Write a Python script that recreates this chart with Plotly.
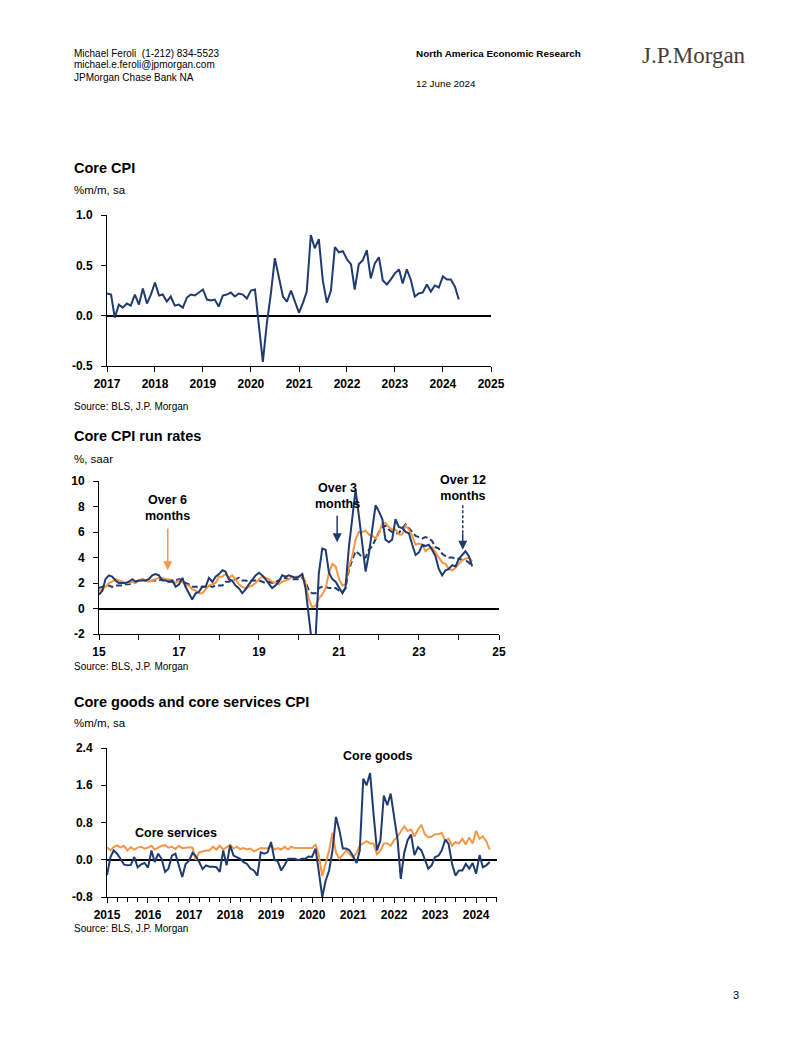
import plotly.graph_objects as go
import pandas as pd

# ---------------- DATA ----------------
# Chart 1: Core CPI, %m/m sa, Jan 2017 - May 2024
core_cpi = [
    0.22, 0.21, -0.02, 0.11, 0.08, 0.12, 0.10, 0.21, 0.11, 0.27, 0.12, 0.21,   # 2017
    0.33, 0.20, 0.21, 0.14, 0.19, 0.10, 0.11, 0.08, 0.18, 0.21, 0.20, 0.23,   # 2018
    0.26, 0.16, 0.15, 0.16, 0.09, 0.20, 0.21, 0.23, 0.19, 0.22, 0.21, 0.17,   # 2019
    0.25, 0.26, -0.10, -0.46, -0.08, 0.22, 0.57, 0.38, 0.19, 0.14, 0.25, 0.14,  # 2020
    0.03, 0.13, 0.24, 0.80, 0.67, 0.76, 0.35, 0.13, 0.25, 0.68, 0.63, 0.64,   # 2021
    0.56, 0.51, 0.26, 0.51, 0.55, 0.65, 0.37, 0.52, 0.58, 0.35, 0.31, 0.36,   # 2022
    0.42, 0.46, 0.32, 0.46, 0.36, 0.19, 0.22, 0.23, 0.31, 0.24, 0.30, 0.28,   # 2023
    0.39, 0.36, 0.36, 0.29, 0.16,                                             # 2024
]
core_cpi_start = "2017-01-01"
cpi_yticks = [-0.5, 0.0, 0.5, 1.0]
cpi_yticktext = ["-0.5", "0.0", "0.5", "1.0"]

# Chart 2: Core CPI run rates, %, saar, Jan 2015 - May 2024
run_3m = [
    1.1, 1.4, 2.3, 2.6, 2.5, 2.2, 2.0, 2.0, 2.0, 2.1, 2.3, 2.1,   # 2015
    2.2, 2.2, 2.2, 2.3, 2.6, 2.7, 2.6, 2.2, 2.2, 2.1, 2.2, 1.7,   # 2016
    1.9, 2.4, 1.7, 1.2, 0.7, 1.2, 1.3, 1.7, 1.7, 2.4, 2.1, 2.5,   # 2017
    2.7, 3.0, 2.9, 2.3, 2.2, 1.8, 1.6, 1.2, 1.5, 1.9, 2.3, 2.6,   # 2018
    2.8, 2.6, 2.3, 1.9, 1.6, 1.8, 2.1, 2.6, 2.5, 2.6, 2.5, 2.4,   # 2019
    2.5, 2.7, 1.6, -1.2, -2.9, -2.3, 2.8, 4.7, 4.6, 2.8, 2.3, 2.1,  # 2020
    1.7, 1.2, 1.6, 4.8, 7.0, 9.3, 7.3, 5.0, 2.9, 4.3, 6.4, 8.1,   # 2021
    7.6, 7.0, 5.4, 5.2, 5.4, 7.0, 6.4, 6.3, 6.0, 5.9, 5.0, 4.2,   # 2022
    4.4, 5.0, 4.9, 5.0, 4.6, 4.1, 3.1, 2.6, 3.0, 3.1, 3.4, 3.3,   # 2023
    3.9, 4.2, 4.5, 4.1, 3.3,                                      # 2024
]
run_6m = [
    1.4, 1.5, 1.7, 2.0, 2.1, 2.3, 2.2, 2.1, 2.0, 2.0, 2.1, 2.0,   # 2015
    2.2, 2.3, 2.2, 2.1, 2.2, 2.3, 2.4, 2.4, 2.3, 2.3, 2.2, 2.0,   # 2016
    2.2, 2.1, 1.8, 1.8, 1.5, 1.4, 1.2, 1.2, 1.5, 1.8, 1.9, 2.0,   # 2017
    2.5, 2.5, 2.7, 2.4, 2.6, 2.3, 1.9, 1.7, 1.6, 1.7, 1.8, 2.0,   # 2018
    2.3, 2.5, 2.4, 2.3, 2.1, 2.0, 1.9, 2.1, 2.2, 2.3, 2.5, 2.5,   # 2019
    2.5, 2.6, 2.0, 0.7, 0.1, 0.2, 0.8, 1.1, 1.6, 2.8, 3.5, 3.3,   # 2020
    2.3, 1.8, 1.9, 3.2, 4.1, 5.4, 6.0, 6.0, 6.1, 5.8, 5.7, 5.5,   # 2021
    5.9, 6.7, 6.7, 6.4, 6.2, 6.2, 5.8, 5.8, 6.5, 6.2, 5.7, 5.0,   # 2022
    5.1, 5.0, 4.5, 4.7, 4.8, 4.4, 4.0, 3.6, 3.5, 3.1, 3.0, 3.2,   # 2023
    3.5, 3.8, 3.9, 4.0, 3.7,                                      # 2024
]
run_12m = [
    1.6, 1.7, 1.8, 1.8, 1.7, 1.8, 1.8, 1.8, 1.9, 1.9, 2.0, 2.1,   # 2015
    2.2, 2.3, 2.2, 2.1, 2.2, 2.2, 2.2, 2.3, 2.2, 2.1, 2.1, 2.2,   # 2016
    2.3, 2.2, 2.0, 1.9, 1.7, 1.7, 1.7, 1.7, 1.7, 1.8, 1.7, 1.8,   # 2017
    1.8, 1.8, 2.1, 2.1, 2.2, 2.3, 2.4, 2.2, 2.2, 2.1, 2.2, 2.2,   # 2018
    2.2, 2.1, 2.0, 2.1, 2.0, 2.1, 2.2, 2.4, 2.4, 2.3, 2.3, 2.3,   # 2019
    2.3, 2.4, 2.1, 1.4, 1.2, 1.2, 1.6, 1.7, 1.7, 1.6, 1.6, 1.6,   # 2020
    1.4, 1.3, 1.6, 3.0, 3.8, 4.5, 4.3, 4.0, 4.0, 4.6, 4.9, 5.5,   # 2021
    6.0, 6.4, 6.5, 6.2, 6.0, 5.9, 5.9, 6.3, 6.6, 6.3, 6.0, 5.7,   # 2022
    5.6, 5.5, 5.6, 5.5, 5.3, 4.8, 4.7, 4.3, 4.1, 4.0, 4.0, 3.9,   # 2023
    3.9, 3.8, 3.8, 3.6, 3.4,                                      # 2024
]
run_start = "2015-01-01"
run_yticks = [-2, 0, 2, 4, 6, 8, 10]
run_yticktext = ["-2", "0", "2", "4", "6", "8", "10"]

# Chart 3: Core goods and core services CPI, %m/m sa, Jan 2015 - May 2024
core_goods = [
    -0.33, 0.06, 0.20, 0.13, 0.02, -0.10, -0.12, -0.11, 0.06, -0.16, -0.10, -0.07,  # 2015
    -0.17, 0.20, -0.05, 0.13, 0.02, -0.26, -0.19, 0.09, 0.13, -0.12, -0.37, -0.09,  # 2016
    -0.02, 0.15, 0.08, -0.05, -0.20, -0.12, -0.15, -0.15, -0.16, -0.26, 0.20, -0.12,  # 2017
    0.31, 0.09, 0.06, 0.02, -0.05, -0.09, -0.19, -0.23, -0.34, 0.16, 0.13, 0.16,    # 2018
    0.38, -0.01, -0.03, -0.23, -0.12, 0.02, 0.02, 0.02, -0.01, 0.02, 0.02, 0.07,    # 2019
    0.06, 0.24, -0.25, -0.80, -0.45, -0.23, 0.20, 0.92, 0.63, 0.24, 0.24, 0.20,     # 2020
    0.07, -0.07, 0.20, 1.74, 1.60, 1.86, 1.00, 0.20, 0.42, 1.38, 1.17, 1.42,       # 2021
    0.92, 0.42, -0.41, 0.15, 0.42, 0.54, 0.10, 0.27, 0.20, -0.01, -0.19, -0.12,     # 2022
    0.06, 0.09, 0.20, 0.43, 0.34, -0.09, -0.34, -0.23, -0.23, -0.09, -0.19, -0.07,  # 2023
    -0.30, 0.10, -0.16, -0.12, -0.05,                                               # 2024
]
core_services = [
    0.27, 0.20, 0.27, 0.31, 0.26, 0.30, 0.20, 0.27, 0.22, 0.26, 0.28, 0.24,   # 2015
    0.26, 0.30, 0.22, 0.27, 0.30, 0.31, 0.26, 0.28, 0.23, 0.30, 0.25, 0.26,   # 2016
    0.27, 0.26, 0.00, 0.16, 0.18, 0.20, 0.20, 0.28, 0.22, 0.30, 0.22, 0.26,   # 2017
    0.32, 0.24, 0.28, 0.23, 0.25, 0.22, 0.24, 0.18, 0.22, 0.25, 0.24, 0.25,   # 2018
    0.30, 0.22, 0.25, 0.22, 0.28, 0.22, 0.28, 0.25, 0.25, 0.25, 0.25, 0.24,   # 2019
    0.25, 0.33, 0.10, -0.35, -0.05, 0.20, 0.58, 0.15, 0.02, 0.10, 0.20, 0.12,  # 2020
    0.05, 0.15, 0.30, 0.35, 0.40, 0.35, 0.35, 0.12, 0.20, 0.35, 0.35, 0.30,   # 2021
    0.42, 0.50, 0.60, 0.72, 0.62, 0.65, 0.50, 0.65, 0.75, 0.55, 0.48, 0.50,   # 2022
    0.55, 0.55, 0.58, 0.40, 0.45, 0.30, 0.38, 0.35, 0.45, 0.33, 0.48, 0.35,   # 2023
    0.62, 0.45, 0.50, 0.40, 0.22,                                             # 2024
]
goods_start = "2015-01-01"
goods_yticks = [-0.8, 0.0, 0.8, 1.6, 2.4]
goods_yticktext = ["-0.8", "0.0", "0.8", "1.6", "2.4"]

# ---------------- STYLE ----------------
NAVY = "#1F3B6F"
ORANGE = "#F79646"
SANS = "Liberation Sans, Arial, sans-serif"
W, H = 802, 1037
OFF = 8  # page body margin of the browser


def px(x):
    return (x - OFF) / W


def py(y):
    return 1 - (y - OFF) / H


def xd(a, b):
    return [px(a), px(b)]


def yd(top, bottom):
    return [py(bottom), py(top)]


d1 = pd.date_range(core_cpi_start, periods=len(core_cpi), freq="MS")
d2 = pd.date_range(run_start, periods=len(run_3m), freq="MS")
d3 = pd.date_range(goods_start, periods=len(core_goods), freq="MS")

fig = go.Figure()

fig.add_trace(go.Scatter(x=d1, y=core_cpi, mode="lines", line=dict(color=NAVY, width=2),
                         xaxis="x", yaxis="y", showlegend=False))
fig.add_trace(go.Scatter(x=d2, y=run_12m, mode="lines", line=dict(color=NAVY, width=2, dash="6px,3px"),
                         xaxis="x2", yaxis="y2", showlegend=False))
fig.add_trace(go.Scatter(x=d2, y=run_6m, mode="lines", line=dict(color=ORANGE, width=2),
                         xaxis="x2", yaxis="y2", showlegend=False))
fig.add_trace(go.Scatter(x=d2, y=run_3m, mode="lines", line=dict(color=NAVY, width=2),
                         xaxis="x2", yaxis="y2", showlegend=False))
fig.add_trace(go.Scatter(x=d3, y=core_services, mode="lines", line=dict(color=ORANGE, width=2),
                         xaxis="x3", yaxis="y3", showlegend=False))
fig.add_trace(go.Scatter(x=d3, y=core_goods, mode="lines", line=dict(color=NAVY, width=2),
                         xaxis="x3", yaxis="y3", showlegend=False))

tickfont = dict(family=SANS, size=12, color="black", weight="bold")
common_x = dict(showgrid=False, zeroline=False, showline=True, linecolor="black", linewidth=1,
                ticks="outside", ticklen=5, tickcolor="black", tickfont=tickfont, fixedrange=True,
                automargin=False, ticklabelstandoff=2)
common_y = dict(showgrid=False, showline=True, linecolor="black", linewidth=1,
                ticks="outside", ticklen=5, tickcolor="black", tickfont=tickfont,
                zeroline=True, zerolinecolor="black", zerolinewidth=1.5, fixedrange=True,
                ticklabelstandoff=6, automargin=False, tickmode="array")

fig.update_layout(
    template="none",
    width=W, height=H, margin=dict(l=0, r=0, t=0, b=0, pad=0), autosize=False,
    paper_bgcolor="white", plot_bgcolor="white", showlegend=False,
    xaxis=dict(common_x, domain=xd(107, 491), anchor="y", type="date",
               range=["2017-01-01", "2025-01-01"], dtick="M12", tick0="2017-01-01", tickformat="%Y"),
    yaxis=dict(common_y, domain=yd(215, 366), anchor="x", range=[-0.5, 1.0],
               tickvals=cpi_yticks, ticktext=cpi_yticktext),
    xaxis2=dict(common_x, domain=xd(99, 499), anchor="y2", type="date",
                range=["2015-01-01", "2025-01-01"], dtick="M24", tick0="2015-01-01", tickformat="%y",
                minor=dict(ticks="outside", dtick="M12", ticklen=5, tickcolor="black")),
    yaxis2=dict(common_y, domain=yd(481, 634), anchor="x2", range=[-2, 10],
                tickvals=run_yticks, ticktext=run_yticktext),
    xaxis3=dict(common_x, domain=xd(107, 497), anchor="y3", type="date",
                range=["2015-01-01", "2024-07-05"], dtick="M12", tick0="2015-01-01", tickformat="%Y",
                minor=dict(ticks="outside", dtick="M3", ticklen=4, tickcolor="black")),
    yaxis3=dict(common_y, domain=yd(748, 897), anchor="x3", range=[-0.8, 2.4],
                tickvals=goods_yticks, ticktext=goods_yticktext),
)


def ptext(x, y, text, size=11, family=SANS, color="black", bold=False, xanchor="left"):
    fig.add_annotation(xref="paper", yref="paper", x=px(x), y=py(y), text=text, showarrow=False,
                       xanchor=xanchor, yanchor="middle",
                       font=dict(family=family, size=size, color=color, weight="bold" if bold else "normal"))


# Header
ptext(72, 53, "Michael Feroli  (1-212) 834-5523", size=10)
ptext(72, 65, "michael.e.feroli@jpmorgan.com", size=10)
ptext(72, 77, "JPMorgan Chase Bank NA", size=10)
ptext(414, 53, "North America Economic Research", size=9.9, bold=True)
ptext(414, 84, "12 June 2024", size=9.8)
ptext(640, 55, "J.P.Morgan", size=23, family="Liberation Serif, DejaVu Serif, serif", color="#4a3a33")
ptext(741, 995, "3", size=11, xanchor="right")

# Chart titles / units / sources
TITLE = 14.5
ptext(72, 168, "Core CPI", size=TITLE, bold=True)
ptext(72, 190, "%m/m, sa", size=11.5)
ptext(72, 406, "Source: BLS, J.P. Morgan", size=10)
ptext(72, 436, "Core CPI run rates", size=TITLE, bold=True)
ptext(72, 459, "%, saar", size=11.5)
ptext(72, 666, "Source: BLS, J.P. Morgan", size=10)
ptext(72, 702, "Core goods and core services CPI", size=TITLE, bold=True)
ptext(72, 723, "%m/m, sa", size=11.5)
ptext(72, 928, "Source: BLS, J.P. Morgan", size=10)

labfont = dict(family=SANS, size=12.5, color="black", weight="bold")

# Chart 2 annotations
fig.add_annotation(xref="x2", yref="y2", x="2016-09-20", y=7.9, text="Over 6<br>months",
                   showarrow=False, font=labfont)
fig.add_annotation(xref="x2", yref="y2", axref="x2", ayref="y2", x="2016-09-20", y=3.0,
                   ax="2016-09-20", ay=6.4, text="", showarrow=True, arrowhead=2, arrowsize=1.2,
                   arrowwidth=1.5, arrowcolor=ORANGE)
fig.add_annotation(xref="x2", yref="y2", x="2020-12-20", y=8.85, text="Over 3<br>months",
                   showarrow=False, font=labfont)
fig.add_annotation(xref="x2", yref="y2", axref="x2", ayref="y2", x="2020-12-15", y=5.2,
                   ax="2020-12-15", ay=7.4, text="", showarrow=True, arrowhead=2, arrowsize=1.2,
                   arrowwidth=1.5, arrowcolor=NAVY)
fig.add_annotation(xref="x2", yref="y2", x="2024-02-05", y=9.45, text="Over 12<br>months",
                   showarrow=False, font=labfont)
fig.add_shape(type="line", xref="x2", yref="y2", x0="2024-02-05", x1="2024-02-05", y0=8.1, y1=5.9,
              line=dict(color=NAVY, width=1.5, dash="3px,2px"))
fig.add_annotation(xref="x2", yref="y2", axref="x2", ayref="y2", x="2024-02-05", y=4.6,
                   ax="2024-02-05", ay=6.0, text="", showarrow=True, arrowhead=2, arrowsize=1.2,
                   arrowwidth=1.5, arrowcolor=NAVY)

# Chart 3 annotations
fig.add_annotation(xref="x3", yref="y3", x="2021-08-10", y=2.22, text="Core goods",
                   showarrow=False, font=labfont)
fig.add_annotation(xref="x3", yref="y3", x="2016-09-05", y=0.57, text="Core services",
                   showarrow=False, font=labfont)

fig.write_html("out.html")
